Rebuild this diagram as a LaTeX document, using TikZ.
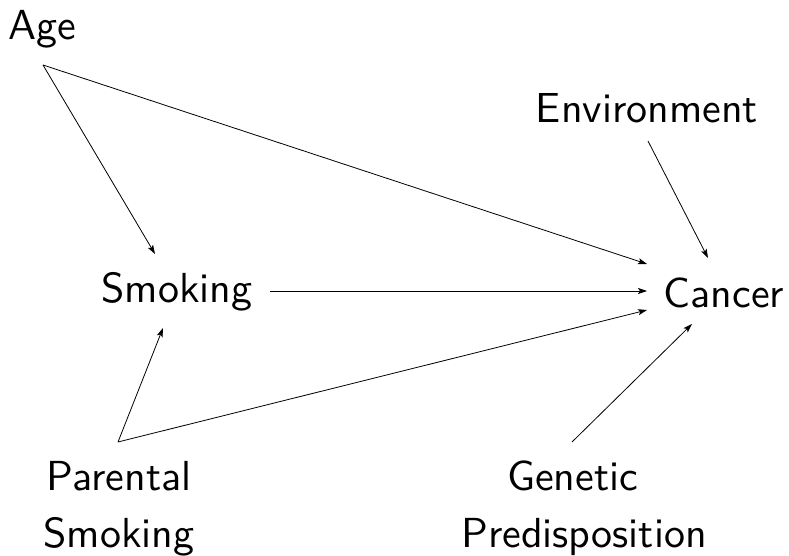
\documentclass[tikz,border=0pt]{standalone}
\usepackage{fontspec}
\setsansfont{lmsans10-regular.otf}
\usetikzlibrary{arrows.meta,calc}
\tikzset{
  lbl/.style={font=\sffamily\fontsize{42}{57}\selectfont, inner sep=0pt, align=center, anchor=base},
  edge/.style={line width=0.8pt, -{Stealth[length=9pt,width=6pt,inset=2pt]}}
}
\begin{document}
\begin{tikzpicture}[x=1pt,y=-1pt]
  \useasboundingbox (0,0) rectangle (789,556);

  % variables (two-line labels sit on the baseline of their last line)
  \node[lbl] (age) at (42,40)  {Age};
  \node[lbl] (env) at (647,123) {Environment};
  \node[lbl] (smk) at (177,302) {Smoking};
  \node[lbl] (can) at (724,307) {Cancer};
  \node[lbl] (par) at (119,547) {Parental\\Smoking};
  \node[lbl] (gen) at (584,547) {Genetic\hspace*{23pt}\\Predisposition};

  % connector ports, placed relative to each variable
  \coordinate (age-out)   at ($(age.base)+(1,25)$);
  \coordinate (env-out)   at ($(env.base)+(1,18)$);
  \coordinate (par-out)   at ($(par.base)+(-1,-105)$);
  \coordinate (gen-out)   at ($(gen.base)+(-12,-105)$);
  \coordinate (smk-top)   at ($(smk.base)+(-22,-48)$);
  \coordinate (smk-bot)   at ($(smk.base)+(-14,26)$);
  \coordinate (smk-out)   at ($(smk.base)+(93,-11)$);
  \coordinate (can-age)   at ($(can.base)+(-77,-43)$);
  \coordinate (can-smk)   at ($(can.base)+(-77,-16)$);
  \coordinate (can-par)   at ($(can.base)+(-77,3)$);
  \coordinate (can-env)   at ($(can.base)+(-16,-49)$);
  \coordinate (can-gen)   at ($(can.base)+(-32,17)$);

  % causal arrows
  \draw[edge] (age-out) -- (smk-top);
  \draw[edge] (age-out) -- (can-age);
  \draw[edge] (env-out) -- (can-env);
  \draw[edge] (smk-out) -- (can-smk);
  \draw[edge] (par-out) -- (smk-bot);
  \draw[edge] (par-out) -- (can-par);
  \draw[edge] (gen-out) -- (can-gen);
\end{tikzpicture}
\end{document}
